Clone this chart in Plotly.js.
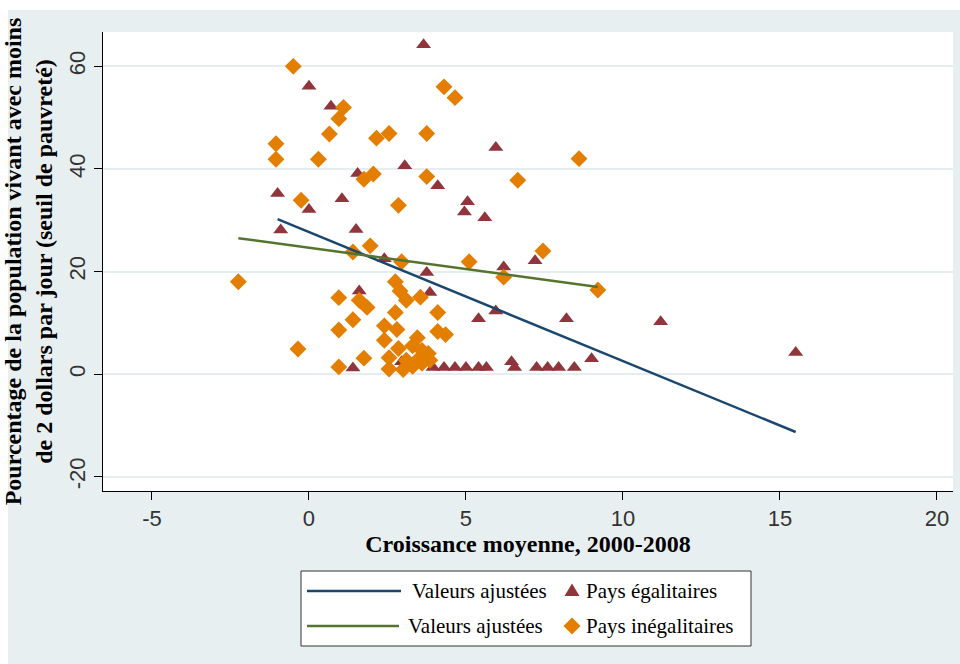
<!DOCTYPE html>
<html>
<head>
<meta charset="utf-8">
<script src="https://cdn.plot.ly/plotly-3.0.1.min.js"></script>
<style>
  html, body { margin: 0; padding: 0; background: #ffffff; }
  #chart { width: 960px; height: 664px; }
</style>
</head>
<body>
<div id="chart"></div>
<script>
// Croissance moyenne 2000-2008 (x) vs. % de la population sous 2 $/jour (y)

// Pays égalitaires
const egalX = [-1.0, -0.9, 0.0, 0.0, 0.7, 1.05, 1.55, 1.5, 1.6, 1.4, 2.4, 2.95, 3.05, 3.65, 3.75, 3.85,
               4.1, 4.95, 5.05, 5.6, 5.95, 6.2, 7.2, 5.95, 5.4, 8.2, 11.2, 15.5, 9.0, 6.45, 6.55,
               3.95, 4.3, 4.65, 5.0, 5.4, 5.65, 7.25, 7.6, 7.95, 8.45];
const egalY = [35.2, 28.1, 56.1, 32.1, 52.2, 34.2, 39.1, 28.2, 16.2, 1.2, 22.5, 2.4, 40.6, 64.2, 19.8, 15.9,
               36.7, 31.6, 33.6, 30.5, 44.2, 20.9, 22.1, 12.3, 10.8, 10.8, 10.2, 4.2, 3.0, 2.4, 1.3,
               1.3, 1.3, 1.3, 1.3, 1.3, 1.3, 1.3, 1.3, 1.3, 1.3];

// Pays inégalitaires
const inegX = [-0.5, 1.1, 0.95, 0.65, 2.15, 2.55, 3.75, 4.3, 4.65, -1.05, -1.05, 0.3, 1.75, 2.05, -0.25,
               3.75, 2.85, 8.6, 6.65, 1.95, 1.4, 2.95, -2.25, 2.75, 0.95, 1.6, 1.85, 2.9, 3.1, 3.55,
               4.1, 2.75, 1.4, 0.95, 2.4, 2.8, 2.4, 4.1, 4.35, 3.45, 2.85, -0.35, 3.3, 3.6, 3.8,
               2.55, 1.75, 0.95, 2.55, 3.0, 3.3, 3.1, 3.45, 3.85, 3.6, 5.1, 6.2, 7.45, 9.2];
const inegY = [60.0, 52.0, 49.8, 46.8, 46.0, 46.9, 46.9, 56.0, 53.9, 44.9, 41.9, 41.9, 38.0, 39.0, 33.9,
               38.5, 32.9, 42.0, 37.8, 25.0, 23.8, 21.9, 18.0, 18.0, 14.9, 14.4, 13.0, 16.2, 14.4, 15.0,
               12.0, 12.0, 10.6, 8.6, 9.4, 8.7, 6.6, 8.3, 7.7, 7.1, 5.0, 4.9, 5.5, 4.6, 4.0,
               3.2, 3.1, 1.4, 1.0, 0.9, 1.5, 2.7, 2.7, 2.7, 2.1, 21.9, 18.9, 24.0, 16.4];

// Valeurs ajustées (droites de régression)
const fitEgalX = [-1.0, 15.5];
const fitEgalY = [30.2, -11.3];
const fitInegX = [-2.25, 9.2];
const fitInegY = [26.5, 17.0];

const xTicks = [-5, 0, 5, 10, 15, 20];
const yTicks = [-20, 0, 20, 40, 60];

const legendLabels = ['Valeurs ajustées', 'Pays égalitaires', 'Valeurs ajustées', 'Pays inégalitaires'];

// Palette
const NAVY = '#1a476f', GREEN = '#55752f', MAROON = '#90353b', ORANGE = '#e37e00';
const BG = '#e8eff1';

// Plot area in pixels
const W = 960, H = 664;
const PL = 103, PR = 953, PT = 32, PB = 491;
const px = v => (v - PL) / (PR - PL);
const py = v => (PB - v) / (PB - PT);

const traces = [
  { x: egalX, y: egalY, type: 'scatter', mode: 'markers', showlegend: false,
    marker: { symbol: 'triangle-up', size: 13, color: MAROON } },
  { x: inegX, y: inegY, type: 'scatter', mode: 'markers', showlegend: false,
    marker: { symbol: 'diamond', size: 13, color: ORANGE } },
  { x: fitEgalX, y: fitEgalY, type: 'scatter', mode: 'lines', showlegend: false,
    line: { color: NAVY, width: 2.5 } },
  { x: fitInegX, y: fitInegY, type: 'scatter', mode: 'lines', showlegend: false,
    line: { color: GREEN, width: 2.5 } }
];

// Legend box drawn as shapes + annotations
const legRows = [591, 626];
const shapes = [
  // thin white strips on the outer edges
  { type: 'rect', xref: 'paper', yref: 'paper', x0: px(0), x1: px(8), y0: py(0), y1: py(H),
    fillcolor: '#ffffff', line: { width: 0 }, layer: 'below' },
  { type: 'rect', xref: 'paper', yref: 'paper', x0: px(0), x1: px(W), y0: py(0), y1: py(10),
    fillcolor: '#ffffff', line: { width: 0 }, layer: 'below' },
  // legend frame
  { type: 'rect', xref: 'paper', yref: 'paper', x0: px(301), x1: px(751), y0: py(571), y1: py(646),
    fillcolor: '#ffffff', line: { color: '#333333', width: 1 } },
  // line keys
  { type: 'line', xref: 'paper', yref: 'paper', x0: px(307), x1: px(401), y0: py(legRows[0]), y1: py(legRows[0]),
    line: { color: NAVY, width: 2.5 } },
  { type: 'line', xref: 'paper', yref: 'paper', x0: px(307), x1: px(399), y0: py(legRows[1]), y1: py(legRows[1]),
    line: { color: GREEN, width: 2.5 } },
  // marker keys
  { type: 'path', xref: 'paper', yref: 'paper', xsizemode: 'pixel', ysizemode: 'pixel',
    xanchor: px(572), yanchor: py(legRows[0]), path: 'M-7.5,-5 L7.5,-5 L0,7.5 Z',
    fillcolor: MAROON, line: { width: 0 } },
  { type: 'path', xref: 'paper', yref: 'paper', xsizemode: 'pixel', ysizemode: 'pixel',
    xanchor: px(572), yanchor: py(legRows[1]), path: 'M-8.5,0 L0,8.5 L8.5,0 L0,-8.5 Z',
    fillcolor: ORANGE, line: { width: 0 } }
];

const legFont = { family: 'Liberation Serif, Times New Roman, serif', size: 21, color: '#000000' };
const annotations = [
  { text: legendLabels[0], x: px(410), y: py(legRows[0]) },
  { text: legendLabels[1], x: px(584), y: py(legRows[0]) },
  { text: legendLabels[2], x: px(406), y: py(legRows[1]) },
  { text: legendLabels[3], x: px(584), y: py(legRows[1]) }
].map(a => Object.assign(a, { xref: 'paper', yref: 'paper', xanchor: 'left', yanchor: 'middle',
                              showarrow: false, font: legFont }));

const tickFont = { family: 'Liberation Sans Narrow, Liberation Sans, Arial, sans-serif', size: 22, color: '#333333' };
const titleFont = { family: 'Liberation Serif, Times New Roman, serif', size: 24, color: '#000000', weight: 'bold' };

const layout = {
  width: W, height: H,
  margin: { l: PL, r: W - PR, t: PT, b: H - PB, pad: 0 },
  paper_bgcolor: BG,
  plot_bgcolor: '#ffffff',
  showlegend: false,
  xaxis: {
    range: [-6.56, 20.51],
    tickvals: xTicks, ticktext: xTicks.map(String),
    showgrid: false, zeroline: false,
    showline: true, linecolor: '#000000', linewidth: 1,
    ticks: 'outside', ticklen: 8, tickcolor: '#000000', tickwidth: 1,
    tickfont: tickFont,
    title: { text: 'Croissance moyenne, 2000-2008', font: titleFont, standoff: 4 },
    automargin: false
  },
  yaxis: {
    range: [-22.8, 66.7],
    tickvals: yTicks, ticktext: yTicks.map(String),
    tickangle: -90,
    showgrid: true, gridcolor: '#e6edf0', gridwidth: 2,
    zeroline: false,
    showline: true, linecolor: '#000000', linewidth: 1,
    ticks: 'outside', ticklen: 8, tickcolor: '#000000', tickwidth: 1,
    tickfont: tickFont,
    title: { text: 'Pourcentage de la population vivant avec moins<br>de 2 dollars par jour (seuil de pauvreté)',
             font: titleFont, standoff: 10 },
    automargin: false
  },
  shapes: shapes,
  annotations: annotations
};

Plotly.newPlot('chart', traces, layout, { staticPlot: true, displayModeBar: false });
</script>
</body>
</html>
